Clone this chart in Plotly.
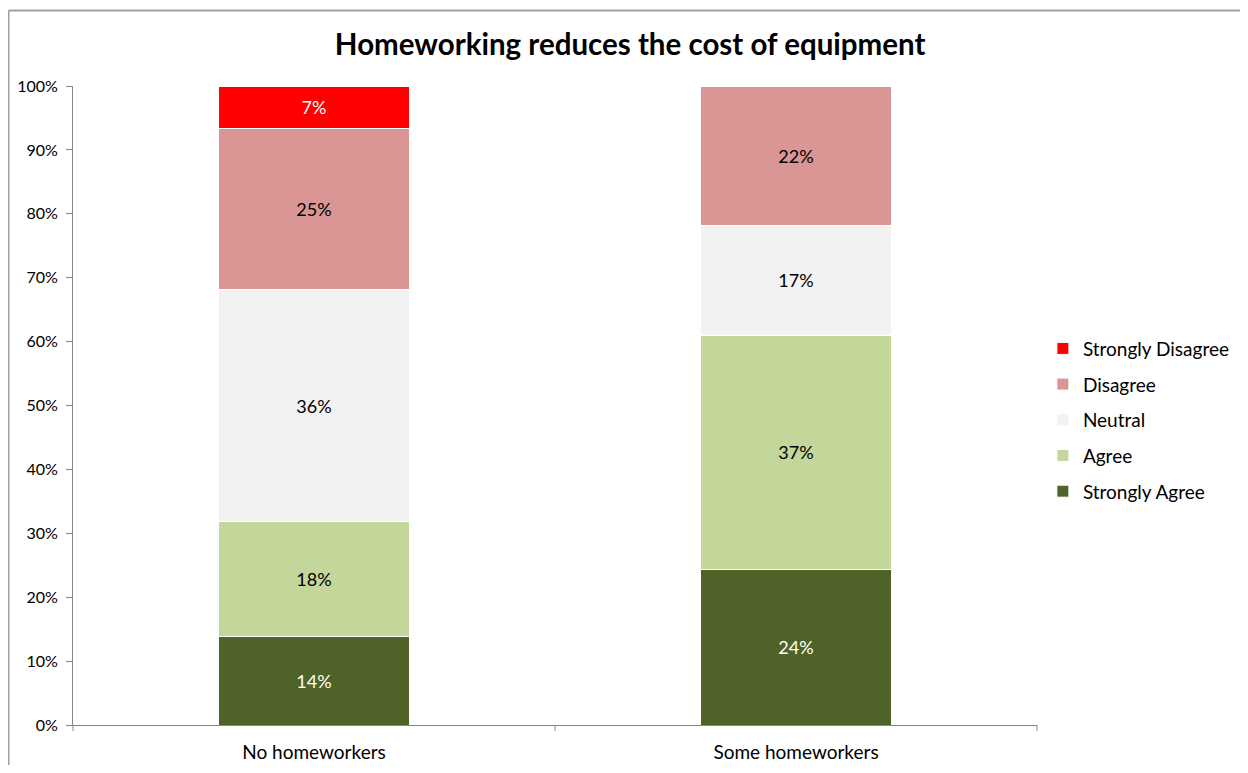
import plotly.graph_objects as go

categories = ["No homeworkers", "Some homeworkers"]
series_names = ["Strongly Agree", "Agree", "Neutral", "Disagree", "Strongly Disagree"]
strongly_agree = [13.8, 24.4]
agree = [18.0, 36.6]
neutral = [36.4, 17.2]
disagree = [25.2, 21.8]
strongly_disagree = [6.6, 0.0]
y_tick_vals = [0, 10, 20, 30, 40, 50, 60, 70, 80, 90, 100]
y_tick_text = ["0%", "10%", "20%", "30%", "40%", "50%", "60%", "70%", "80%", "90%", "100%"]

series_values = [strongly_agree, agree, neutral, disagree, strongly_disagree]
colors = ["#4F6228", "#C4D79B", "#F2F2F2", "#D99694", "#FF0000"]
text_colors = ["white", "black", "black", "black", "white"]
legend_ranks = [5, 4, 3, 2, 1]

FONT = "Lato, Carlito, Calibri, sans-serif"

fig = go.Figure()
for name, vals, col, tcol, rank in zip(series_names, series_values, colors, text_colors, legend_ranks):
    fig.add_trace(go.Bar(
        x=categories, y=vals, name=name, legendgroup=name, legendrank=rank,
        marker=dict(color=col, line=dict(color="white", width=1)),
        text=[f"{v:.0f}%" if v > 0 else "" for v in vals],
        textposition="inside", insidetextanchor="middle",
        textfont=dict(color=tcol, size=18, family=FONT),
        width=0.397,
        hoverinfo="skip",
    ))

# page has an 8px body margin: figure coordinates = page coordinates - 8
W, H = 1232, 757
ml, mt = 65, 78
pw, ph = 964, 639
mr = W - ml - pw
mb = H - mt - ph
x_left = (0.5 - ml) / pw
y_top = (H - mb - 2.5) / ph

fig.update_layout(
    width=W, height=H,
    margin=dict(l=ml, r=mr, t=mt, b=mb, autoexpand=False),
    barmode="stack",
    paper_bgcolor="white", plot_bgcolor="white",
    font=dict(family=FONT, color="black", size=16),
    title=dict(text="<b>Homeworking reduces the cost of equipment</b>",
               x=0.505, xanchor="center", y=0.951, yanchor="middle",
               font=dict(size=29.5, family=FONT, color="black")),
    showlegend=True,
    legend=dict(traceorder="grouped", tracegroupgap=8,
                xref="container", yref="container",
                x=0.840, xanchor="left", y=0.4557, yanchor="middle",
                font=dict(size=19, family=FONT), itemwidth=30,
                bgcolor="rgba(0,0,0,0)"),
    xaxis=dict(showline=True, linecolor="#868686", linewidth=1,
               ticks="", showgrid=False, zeroline=False, automargin=False,
               ticklabelstandoff=10,
               tickfont=dict(size=19, family=FONT)),
    yaxis=dict(range=[0, 100], tickvals=y_tick_vals, ticktext=y_tick_text,
               showline=True, linecolor="#868686", linewidth=1,
               ticks="outside", ticklen=6, tickcolor="#868686",
               ticklabelstandoff=5, automargin=False,
               showgrid=False, zeroline=False,
               tickfont=dict(size=16, family=FONT)),
    shapes=[
        dict(type="line", xref="paper", yref="paper", x0=x_left, x1=x_left, y0=-0.2, y1=y_top,
             line=dict(color="#A0A0A0", width=2)),
        dict(type="line", xref="paper", yref="paper", x0=x_left, x1=1.3, y0=y_top, y1=y_top,
             line=dict(color="#A0A0A0", width=2)),
    ] + [
        dict(type="line", xref="paper", yref="paper", x0=xv, x1=xv, y0=0, y1=-6 / ph,
             line=dict(color="#868686", width=1))
        for xv in [0, 0.5, 1]
    ],
)

fig.write_html("out.html")
